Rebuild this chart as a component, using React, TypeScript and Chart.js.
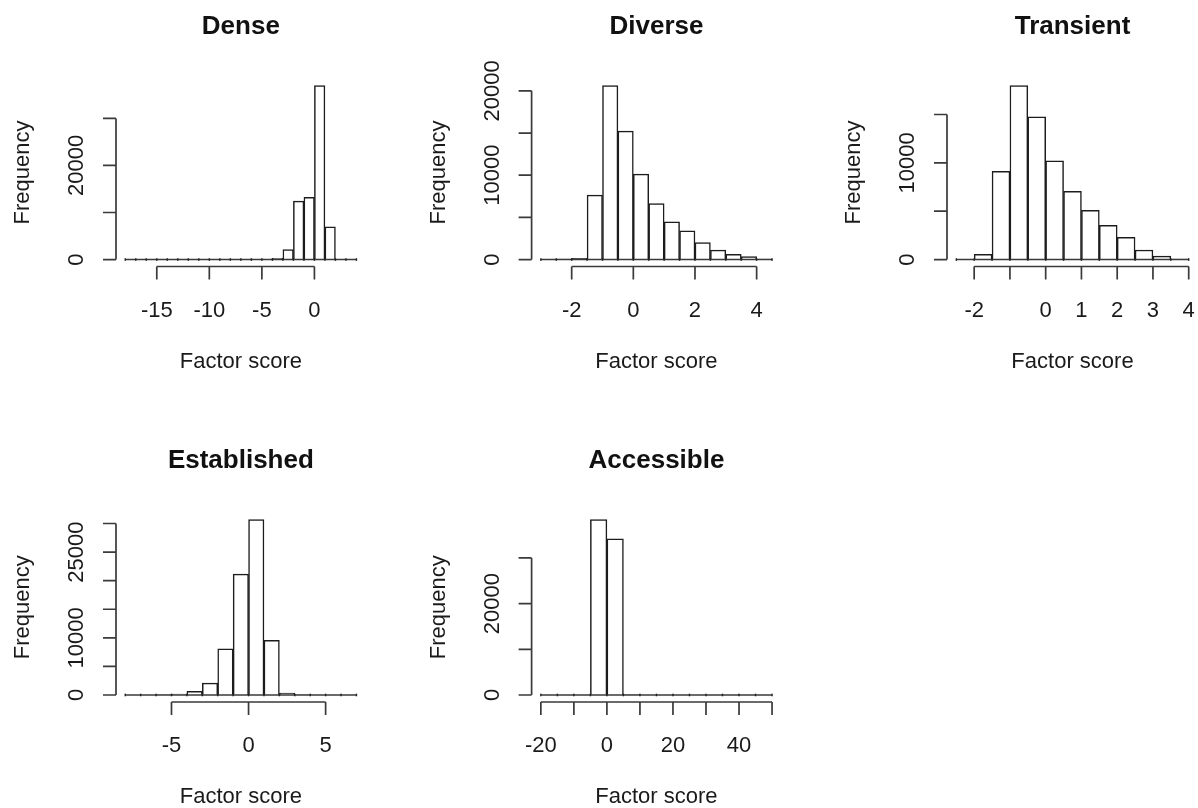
import React, { useEffect, useRef } from "react";
import { Chart, registerables } from "chart.js";

Chart.register(...registerables);

// ---------------- Data ----------------
// Dense
const denseBreaks = [-18, -17, -16, -15, -14, -13, -12, -11, -10, -9, -8, -7, -6, -5, -4, -3, -2, -1, 0, 1, 2, 3, 4];
const denseCounts = [0, 0, 0, 0, 0, 0, 0, 0, 0, 0, 0, 0, 0, 40, 280, 2130, 12400, 13200, 37000, 6950, 60, 20];
const denseXTicks = [-15, -10, -5, 0];
const denseXLabels = ["-15", "-10", "-5", "0"];
const denseYTicks = [0, 10000, 20000, 30000];
const denseYLabels = ["0", "", "20000", ""];

// Diverse
const diverseBreaks = [-3, -2.5, -2, -1.5, -1, -0.5, 0, 0.5, 1, 1.5, 2, 2.5, 3, 3.5, 4, 4.5];
const diverseCounts = [10, 40, 130, 7630, 20640, 15220, 10120, 6640, 4470, 3400, 2020, 1110, 630, 355, 60];
const diverseXTicks = [-2, 0, 2, 4];
const diverseXLabels = ["-2", "0", "2", "4"];
const diverseYTicks = [0, 5000, 10000, 15000, 20000];
const diverseYLabels = ["0", "", "10000", "", "20000"];

// Transient
const transientBreaks = [-2.5, -2, -1.5, -1, -0.5, 0, 0.5, 1, 1.5, 2, 2.5, 3, 3.5, 4];
const transientCounts = [20, 550, 9130, 18000, 14750, 10200, 7060, 5100, 3550, 2300, 990, 345, 40];
const transientXTicks = [-2, -1, 0, 1, 2, 3, 4];
const transientXLabels = ["-2", "", "0", "1", "2", "3", "4"];
const transientYTicks = [0, 5000, 10000, 15000];
const transientYLabels = ["0", "", "10000", ""];

// Established
const establishedBreaks = [-8, -7, -6, -5, -4, -3, -2, -1, 0, 1, 2, 3, 4, 5, 6, 7];
const establishedCounts = [0, 0, 40, 175, 660, 2080, 8090, 21140, 30700, 9560, 330, 10, 0, 0, 0];
const establishedXTicks = [-5, 0, 5];
const establishedXLabels = ["-5", "0", "5"];
const establishedYTicks = [0, 5000, 10000, 15000, 20000, 25000, 30000];
const establishedYLabels = ["0", "", "10000", "", "", "25000", ""];

// Accessible
const accessibleBreaks = [-20, -15, -10, -5, 0, 5, 10, 15, 20, 25, 30, 35, 40, 45, 50];
const accessibleCounts = [0, 0, 5, 38400, 34170, 10, 0, 0, 0, 0, 0, 0, 0, 0];
const accessibleXTicks = [-20, -10, 0, 10, 20, 30, 40, 50];
const accessibleXLabels = ["-20", "", "0", "", "20", "", "40", ""];
const accessibleYTicks = [0, 10000, 20000, 30000];
const accessibleYLabels = ["0", "", "20000", ""];

const titles = ["Dense", "Diverse", "Transient", "Established", "Accessible"];
const xAxisTitle = "Factor score";
const yAxisTitle = "Frequency";

// ---------------- Layout / style ----------------
const COL_X = [0, 415, 830];
const COL_W = [415, 415, 368];
const ROW_Y = [0, 404];
const ROW_H = [404, 404];
const PLOT_LR = [
  [116, 365.7],
  [531.6, 781.3],
  [947, 1198],
];
const PLOT_TB = [
  [78.5, 266.5],
  [512.5, 702],
];

const FONT_FAMILY = '"Liberation Sans", Arial, Helvetica, sans-serif';
const LABEL_FONT = `22px ${FONT_FAMILY}`;
const TITLE_FONT = `bold 26px ${FONT_FAMILY}`;
const TEXT_COLOR = "#1a1a1a";
const AXIS_COLOR = "#3a3a3a";
const BAR_BORDER = "#1c1c1c";
const TICK_LEN = 13;

type PanelCfg = {
  title: string;
  breaks: number[];
  counts: number[];
  xTicks: number[];
  xLabels: string[];
  yTicks: number[];
  yLabels: string[];
  col: number;
  row: number;
};

const PANELS: PanelCfg[] = [
  { title: titles[0], breaks: denseBreaks, counts: denseCounts, xTicks: denseXTicks, xLabels: denseXLabels, yTicks: denseYTicks, yLabels: denseYLabels, col: 0, row: 0 },
  { title: titles[1], breaks: diverseBreaks, counts: diverseCounts, xTicks: diverseXTicks, xLabels: diverseXLabels, yTicks: diverseYTicks, yLabels: diverseYLabels, col: 1, row: 0 },
  { title: titles[2], breaks: transientBreaks, counts: transientCounts, xTicks: transientXTicks, xLabels: transientXLabels, yTicks: transientYTicks, yLabels: transientYLabels, col: 2, row: 0 },
  { title: titles[3], breaks: establishedBreaks, counts: establishedCounts, xTicks: establishedXTicks, xLabels: establishedXLabels, yTicks: establishedYTicks, yLabels: establishedYLabels, col: 0, row: 1 },
  { title: titles[4], breaks: accessibleBreaks, counts: accessibleCounts, xTicks: accessibleXTicks, xLabels: accessibleXLabels, yTicks: accessibleYTicks, yLabels: accessibleYLabels, col: 1, row: 1 },
];

function Panel({ cfg }: { cfg: PanelCfg }) {
  const ref = useRef<HTMLCanvasElement>(null);
  const cx = COL_X[cfg.col];
  const cw = COL_W[cfg.col];
  const cy = ROW_Y[cfg.row];
  const ch = ROW_H[cfg.row];

  useEffect(() => {
    if (!ref.current) return;
    const { breaks, counts } = cfg;
    const points = counts.map((c, i) => ({ x: (breaks[i] + breaks[i + 1]) / 2, y: c }));
    const lo = breaks[0];
    const hi = breaks[breaks.length - 1];
    const xr = hi - lo;
    const ymax = Math.max(...counts);
    const [pl, pr] = PLOT_LR[cfg.col];
    const [pt, pb] = PLOT_TB[cfg.row];

    const rPlugin = {
      id: "rAxes",
      afterDatasetsDraw(chart: any) {
        const { ctx, scales } = chart;
        const x = scales.x;
        const y = scales.y;
        const y0 = y.getPixelForValue(0);
        ctx.save();
        ctx.strokeStyle = AXIS_COLOR;
        ctx.lineWidth = 1.6;
        ctx.beginPath();
        ctx.moveTo(x.getPixelForValue(lo), y0);
        ctx.lineTo(x.getPixelForValue(hi), y0);
        ctx.stroke();
        ctx.fillStyle = "#222";
        breaks.forEach((b) => {
          const px = x.getPixelForValue(b);
          ctx.fillRect(px - 0.7, y0 - 1.3, 1.4, 2.6);
        });
        ctx.restore();
      },
      afterDraw(chart: any) {
        const { ctx, chartArea: a, scales } = chart;
        const x = scales.x;
        const y = scales.y;
        ctx.save();
        ctx.strokeStyle = AXIS_COLOR;
        ctx.lineWidth = 1.7;
        // x axis
        const xs = cfg.xTicks.map((v) => x.getPixelForValue(v));
        ctx.beginPath();
        ctx.moveTo(xs[0], a.bottom);
        ctx.lineTo(xs[xs.length - 1], a.bottom);
        xs.forEach((px) => {
          ctx.moveTo(px, a.bottom);
          ctx.lineTo(px, a.bottom + TICK_LEN);
        });
        ctx.stroke();
        // y axis
        const ys = cfg.yTicks.map((v) => y.getPixelForValue(v));
        ctx.beginPath();
        ctx.moveTo(a.left, ys[0]);
        ctx.lineTo(a.left, ys[ys.length - 1]);
        ys.forEach((py) => {
          ctx.moveTo(a.left, py);
          ctx.lineTo(a.left - TICK_LEN, py);
        });
        ctx.stroke();

        ctx.fillStyle = TEXT_COLOR;
        ctx.font = LABEL_FONT;
        ctx.textAlign = "center";
        ctx.textBaseline = "alphabetic";
        cfg.xLabels.forEach((t, i) => {
          if (t) ctx.fillText(t, xs[i], a.bottom + 50);
        });
        ctx.fillText(xAxisTitle, (a.left + a.right) / 2, a.bottom + 101);
        cfg.yLabels.forEach((t, i) => {
          if (!t) return;
          ctx.save();
          ctx.translate(a.left - 33, ys[i]);
          ctx.rotate(-Math.PI / 2);
          ctx.fillText(t, 0, 0);
          ctx.restore();
        });
        ctx.save();
        ctx.translate(a.left - 87, (a.top + a.bottom) / 2);
        ctx.rotate(-Math.PI / 2);
        ctx.fillText(yAxisTitle, 0, 0);
        ctx.restore();

        ctx.font = TITLE_FONT;
        ctx.fillStyle = "#111";
        ctx.fillText(cfg.title, (a.left + a.right) / 2, a.top - 45);
        ctx.restore();
      },
    };

    const chart = new Chart(ref.current, {
      type: "bar",
      data: {
        datasets: [
          {
            data: points as any,
            backgroundColor: "#ffffff",
            borderColor: BAR_BORDER,
            borderWidth: 1.5,
            barPercentage: 1,
            categoryPercentage: 1,
          },
        ],
      },
      options: {
        animation: false,
        responsive: false,
        maintainAspectRatio: false,
        events: [],
        layout: {
          padding: {
            left: pl - cx,
            right: cx + cw - pr,
            top: pt - cy,
            bottom: cy + ch - pb,
          },
        },
        plugins: {
          legend: { display: false },
          tooltip: { enabled: false },
          title: { display: false },
        },
        scales: {
          x: {
            type: "linear",
            display: false,
            offset: false,
            min: lo - 0.04 * xr,
            max: hi + 0.04 * xr,
            afterBuildTicks: (s: any) => {
              s.ticks = cfg.xTicks.map((v) => ({ value: v }));
            },
          },
          y: {
            type: "linear",
            display: false,
            min: -0.04 * ymax,
            max: 1.04 * ymax,
            afterBuildTicks: (s: any) => {
              s.ticks = cfg.yTicks.map((v) => ({ value: v }));
            },
          },
        },
      } as any,
      plugins: [rPlugin],
    });
    return () => chart.destroy();
  }, []);

  return (
    <canvas
      ref={ref}
      width={cw}
      height={ch}
      style={{ position: "absolute", left: cx, top: cy, width: cw, height: ch }}
    />
  );
}

export default function App() {
  return (
    <div
      style={{
        position: "absolute",
        left: 0,
        top: 0,
        width: 1198,
        height: 808,
        background: "#ffffff",
        overflow: "hidden",
      }}
    >
      {PANELS.map((p) => (
        <Panel key={p.title} cfg={p} />
      ))}
    </div>
  );
}
